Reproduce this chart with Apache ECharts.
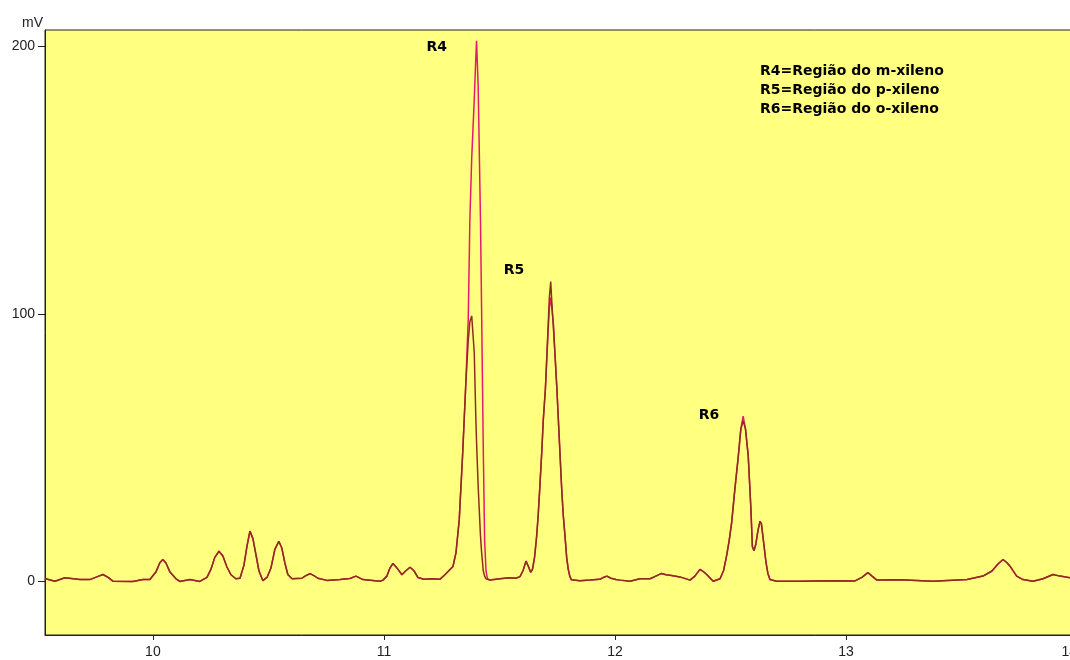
<!DOCTYPE html>
<html>
<head>
<meta charset="utf-8">
<script src="https://cdn.jsdelivr.net/npm/echarts@6/dist/echarts.min.js"></script>
<style>
html,body{margin:0;padding:0;background:#fff;overflow:hidden;}
#chart{width:1070px;height:660px;}
</style>
</head>
<body>
<div id="chart"></div>
<script>
// retention time (min)
const times = [
9.532,9.576,9.619,9.684,9.727,9.760,9.784,9.806,9.827,9.913,9.957,9.987,
10.013,10.030,10.043,10.056,10.074,10.100,10.117,10.160,10.203,10.234,10.251,10.268,10.286,10.303,10.320,10.338,10.359,
10.377,10.394,10.407,10.420,10.433,10.446,10.459,10.476,10.494,10.511,10.528,10.545,10.558,10.571,10.584,10.602,
10.645,10.662,10.680,10.697,10.714,10.753,10.810,10.853,10.879,10.909,10.983,10.996,
11.013,11.026,11.039,11.052,11.061,11.078,11.095,11.113,11.130,11.147,11.173,11.208,11.242,11.264,11.286,11.299,
11.312,11.326,11.341,11.354,11.365,11.372,11.380,11.391,11.398,11.401,11.408,11.418,11.423,11.430,11.436,11.442,11.448,11.459,
11.468,11.502,11.545,11.571,11.589,11.602,11.615,11.626,11.635,11.643,11.652,11.661,11.668,11.675,11.683,11.690,11.699,
11.710,11.716,11.722,11.727,11.734,11.740,11.748,11.755,11.762,11.769,11.776,11.784,11.791,11.798,11.805,11.812,
11.848,11.892,11.935,11.950,11.965,11.983,12.004,12.022,12.065,12.108,12.152,12.177,12.202,12.221,12.245,12.281,
12.325,12.346,12.368,12.381,12.397,12.425,12.455,12.470,12.483,12.494,12.505,12.519,12.534,12.545,12.555,12.565,
12.577,12.588,12.595,12.602,12.610,12.619,12.628,12.634,12.642,12.654,12.662,12.671,12.700,12.801,12.931,
13.039,13.069,13.095,13.113,13.134,13.234,13.377,13.524,13.593,13.632,13.658,13.680,13.697,13.710,13.739,13.766,
13.810,13.853,13.896,13.926,13.970,14.013
];
// trace 1 (magenta) mV
const signalA = [
1.1,0.1,1.4,0.7,0.7,1.8,2.6,1.5,0.1,0.0,0.7,0.7,
3.5,7,8.2,7,3.5,1,0,0.7,0,1.5,4.5,9,11.3,9.5,5.5,2.5,1.0,
1.2,6,13,18.8,16,10,4,0.3,1.5,5,12,15,12.5,7,2.6,1.0,
1.2,2.2,2.9,2.2,1.2,0.4,0.7,1.1,2.0,0.7,0.1,0.5,
2,5,6.7,5.5,4.5,2.5,4,5.3,4,1.5,0.8,1,0.8,2.5,4.5,5.6,
10.8,23,48,73,98,135,158,180,196,202,185,135,100,50,15,4,1,0.5,
0.6,1.0,1.4,1.2,1.8,4,7.6,5.5,3.4,4.5,9,16.8,25,35.5,48,60.6,72,
92,102,106,106,96,85.6,73,60.6,48,35.5,25,16.8,9,4.5,1.8,0.6,
0.3,0.5,0.8,1.5,2.0,1.2,0.7,0.5,0.1,1,1,2,3,2.5,2.2,1.7,
0.5,2,4.5,3.8,2.6,0.1,1,4,9.5,15,21.9,34.4,46.8,57,61.8,57,
46.8,28,13,11.5,14,19,22.5,21.5,15.7,7,3,0.7,0.1,0.1,0.3,
0.2,1.5,3.3,2,0.5,0.6,0.1,0.7,2,3.9,6.5,8.2,7,5.7,2,0.7,
0.1,1,2.6,2,1.4,1.2
];
// trace 2 (brown) mV
const signalB = [
1.1,0.1,1.4,0.7,0.7,1.8,2.6,1.5,0.1,0.0,0.7,0.7,
3.5,7,8.2,7,3.5,1,0,0.7,0,1.5,4.5,9,11.3,9.5,5.5,2.5,1.0,
1.2,6,13,18.8,16,10,4,0.3,1.5,5,12,15,12.5,7,2.6,1.0,
1.2,2.2,2.9,2.2,1.2,0.4,0.7,1.1,2.0,0.7,0.1,0.5,
2,5,6.7,5.5,4.5,2.5,4,5.3,4,1.5,0.8,1,0.8,2.5,4.5,5.6,
10.8,23,48,73,90,97,99.2,85.6,60.6,52,35.5,17,10.8,4,2,1,0.7,0.5,
0.6,1.0,1.4,1.2,1.8,4,7.6,5.5,3.4,4.5,9,16.8,25,35.5,48,60.6,72,
94,106,112,104,94,85.6,73,60.6,48,35.5,25,16.8,9,4.5,1.8,0.6,
0.3,0.5,0.8,1.5,2.0,1.2,0.7,0.5,0.1,1,1,2,3,2.5,2.2,1.7,
0.5,2,4.5,3.8,2.6,0.1,1,4,9.5,15,21.9,34.4,46.8,57,60,57,
46.8,28,13,11.5,14,19,22.5,21.5,15.7,7,3,0.7,0.1,0.1,0.3,
0.2,1.5,3.3,2,0.5,0.6,0.1,0.7,2,3.9,6.5,8.2,7,5.7,2,0.7,
0.1,1,2.6,2,1.4,1.2
];
const xTicks = [10, 11, 12, 13, 14];
const yTicks = [0, 100, 200];
const peakNames = ['R4', 'R5', 'R6'];
const peakNameTimes = [11.229, 11.563, 12.407];
const peakNameValues = [199.6, 116.3, 62];
const noteLines = ['R4=Região do m-xileno', 'R5=Região do p-xileno', 'R6=Região do o-xileno'];

const dataA = times.map((t, i) => [t, signalA[i]]);
const dataB = times.map((t, i) => [t, signalB[i]]);
const labelData = peakNames.map((n, i) => ({name: n, value: [peakNameTimes[i], peakNameValues[i]]}));

const chart = echarts.init(document.getElementById('chart'), null, {renderer: 'canvas'});
const axisFont = {fontFamily: 'Liberation Sans', fontSize: 14, color: '#222'};
chart.setOption({
  animation: false,
  backgroundColor: '#ffffff',
  title: {
    text: noteLines.join('\n'),
    left: 755, top: 57,
    textStyle: {fontFamily: 'DejaVu Sans', fontWeight: 'bold', fontSize: 14, lineHeight: 19, color: '#000'}
  },
  grid: {left: 45, width: 1032, top: 30, height: 605, show: true, backgroundColor: '#FFFF80', borderColor: '#222', borderWidth: 1, outerBoundsMode: 'none', containLabel: false},
  xAxis: {
    type: 'value', min: 9.533, max: 14,
    axisLine: {show: true, onZero: false, lineStyle: {color: '#222', width: 1}},
    axisTick: {show: true, customValues: xTicks, length: 5, lineStyle: {color: '#222'}},
    axisLabel: Object.assign({customValues: xTicks, margin: 10, showMaxLabel: true, hideOverlap: false, alignMaxLabel: 'right'}, axisFont),
    splitLine: {show: false}
  },
  yAxis: {
    type: 'value', min: -20, max: 206,
    name: 'mV', nameLocation: 'end', nameGap: 0,
    nameTextStyle: {fontFamily: 'Liberation Sans', fontSize: 14, color: '#222', align: 'right', padding: [0, 2, 0, 0]},
    axisLine: {show: true, onZero: false, lineStyle: {color: '#222', width: 1}},
    axisTick: {show: true, customValues: yTicks, length: 7, lineStyle: {color: '#222'}},
    axisLabel: Object.assign({customValues: yTicks, margin: 10}, axisFont),
    splitLine: {show: false}
  },
  series: [
    {type: 'line', data: dataA, showSymbol: false, lineStyle: {color: '#e31b6d', width: 1.5}, itemStyle: {color: '#e31b6d'}, z: 2},
    {type: 'line', data: dataB, showSymbol: false, lineStyle: {color: '#8b2f1c', width: 1.5}, itemStyle: {color: '#8b2f1c'}, z: 3},
    {type: 'scatter', data: labelData, symbolSize: 1, itemStyle: {color: '#FFFF80', opacity: 1}, z: 4, silent: true,
     label: {show: true, position: [0.5, 0.5], align: 'center', verticalAlign: 'middle', formatter: p => p.name,
             fontFamily: 'DejaVu Sans', fontWeight: 'bold', fontSize: 14, color: '#000', opacity: 1, textBorderWidth: 0}}
  ]
});
</script>
</body>
</html>
